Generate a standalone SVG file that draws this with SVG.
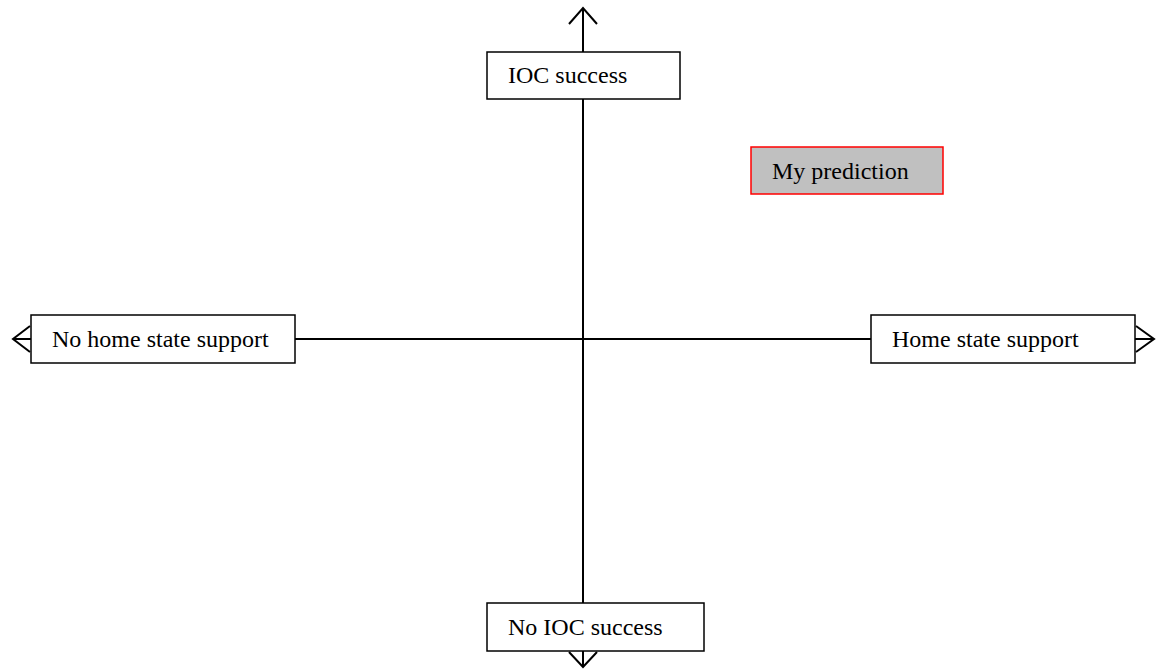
<svg xmlns="http://www.w3.org/2000/svg" width="1159" height="669" viewBox="0 0 1159 669">
<style>
.box{fill:#fff;stroke:#000;stroke-width:1.5}
.pred{fill:#c0c0c0;stroke:#ff0000;stroke-width:1.5}
.t{font-family:"Liberation Serif","Times New Roman",serif;font-size:24px;fill:#000}
.ln{stroke:#000;stroke-width:2;fill:none}
</style>
<rect width="1159" height="669" fill="#fff"/>
<g id="connectors">
<line class="ln" x1="583" y1="8" x2="583" y2="667"/>
<line class="ln" x1="13" y1="339" x2="1154" y2="339"/>
<polyline class="ln" points="569,24 583,8 597,24"/>
<polyline class="ln" points="569,652 583,667 597,652"/>
<polyline class="ln" points="30,326 13,339 30,352"/>
<polyline class="ln" points="1136,326 1154,339 1136,352"/>
</g>
<g id="ioc-success">
<rect class="box" x="487" y="52" width="193" height="47"/>
<text class="t" x="508" y="83">IOC success</text>
</g>
<g id="no-ioc-success">
<rect class="box" x="487" y="603" width="217" height="48"/>
<text class="t" x="508" y="635">No IOC success</text>
</g>
<g id="no-home-state-support">
<rect class="box" x="31" y="315" width="264" height="48"/>
<text class="t" x="52" y="347">No home state support</text>
</g>
<g id="home-state-support">
<rect class="box" x="871" y="315" width="264" height="48"/>
<text class="t" x="892" y="347">Home state support</text>
</g>
<g id="my-prediction">
<rect class="pred" x="751" y="147" width="192" height="47"/>
<text class="t" x="772" y="179">My prediction</text>
</g>
</svg>
